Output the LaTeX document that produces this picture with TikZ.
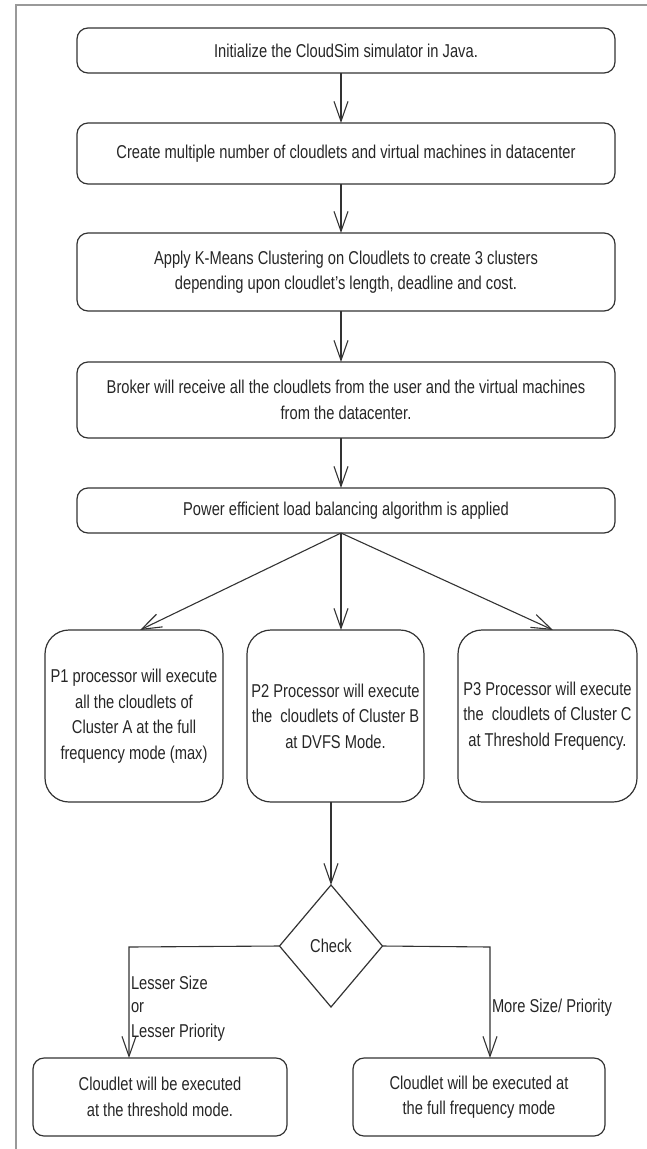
\documentclass[tikz,border=0pt]{standalone}
\usepackage{fontspec}
\setmainfont[FakeStretch=0.79]{Liberation Sans}
\usetikzlibrary{arrows.meta,shapes.geometric}
\begin{document}
\begin{tikzpicture}[x=1pt,y=-1pt,
  every node/.style={inner sep=0pt,outer sep=0pt},
  txt/.style={font=\fontsize{18.6}{25.5}\selectfont, align=center, text=black!85},
  stepbox/.style={txt, draw=black!80, line width=1.2pt, rounded corners=11pt},
  procbox/.style={txt, draw=black!80, line width=1.2pt, rounded corners=24pt, minimum width=177pt, minimum height=172pt},
  decision/.style={txt, draw=black!80, line width=1.2pt, diamond, minimum width=103pt, minimum height=122pt, inner sep=0pt},
  lbl/.style={font=\fontsize{18.6}{25.5}\selectfont, text=black!85, anchor=west},
  conn/.style={draw=black!80, line width=1.1pt, -{Straight Barb[length=20pt,width=14pt,line width=1.1pt]}},
  frame/.style={draw=black!40, line width=1.4pt}
]
\useasboundingbox (0,0) rectangle (647,1149);
\draw[frame] (16,1149) -- (16,5) -- (647,5);

\node[stepbox, minimum width=538pt, minimum height=45pt] (b1) at (346,50.5) {Initialize the CloudSim simulator in Java.};
\node[stepbox, minimum width=538pt, minimum height=61pt] (b2) at (346,153.5) {Create multiple number of cloudlets and virtual machines in datacenter};
\node[stepbox, minimum width=538pt, minimum height=78pt] (b3) at (346,272) {Apply K-Means Clustering on Cloudlets to create 3 clusters\\depending upon cloudlet's length, deadline and cost.};
\node[stepbox, minimum width=538pt, minimum height=76pt] (b4) at (346,400) {Broker will receive all the cloudlets from the user and the virtual machines\\from the datacenter.};
\node[stepbox, minimum width=538pt, minimum height=45pt] (b5) at (346,510.5) {Power efficient load balancing algorithm is applied};

\node[procbox, minimum width=178pt] (p1) at (134,716) {P1 processor will execute\\all the cloudlets of\\Cluster A at the full\\frequency mode (max)};
\node[procbox] (p2) at (335.5,716) {P2 Processor will execute\\the \ cloudlets of Cluster B\\at DVFS Mode.};
\node[procbox, minimum width=179pt] (p3) at (547.5,716) {P3 Processor will execute\\the \ cloudlets of Cluster C\\at Threshold Frequency.};

\node[decision] (chk) at (331,946) {Check};

\node[stepbox, minimum width=254pt, minimum height=78pt] (c1) at (160,1097) {Cloudlet will be executed\\at the threshold mode.};
\node[stepbox, minimum width=252pt, minimum height=78pt] (c2) at (479,1097) {Cloudlet will be executed at\\the full frequency mode};

\coordinate (ax) at (341,0);
\coordinate (fan) at (341,533);
\coordinate (lb) at (129,947);
\coordinate (rb) at (490,947);

\draw[conn] (b1.south -| ax) -- (b2.north -| ax);
\draw[conn] (b2.south -| ax) -- (b3.north -| ax);
\draw[conn] (b3.south -| ax) -- (b4.north -| ax);
\draw[conn] (b4.south -| ax) -- (b5.north -| ax);
\draw[conn] (fan) -- (p1.north -| 140,0);
\draw[conn] (fan) -- (p2.north -| ax);
\draw[conn] (fan) -- (p3.north -| 553,0);
\draw[conn] (p2.south -| chk.north) -- (chk.north);
\draw[conn] (chk.west) -- (lb) -- (c1.north -| lb);
\draw[conn] (chk.east) -- (rb) -- (c2.north -| rb);

\node[lbl] (l1) at (131,983) {Lesser Size};
\node[lbl] (l2) at (131,1008) {or};
\node[lbl] (l3) at (131,1033) {Lesser Priority};
\node[lbl] (l4) at (492,1008) {More Size/ Priority};
\end{tikzpicture}
\end{document}
